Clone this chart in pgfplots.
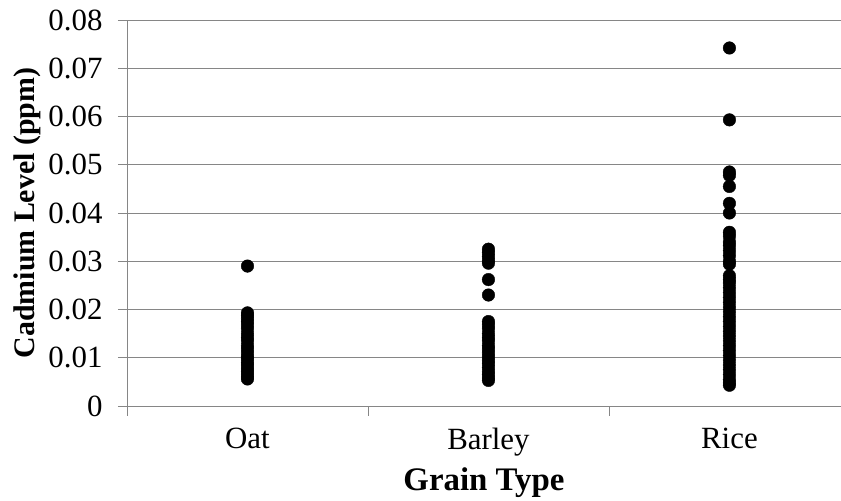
\documentclass[border=0pt]{standalone}
\usepackage{fontspec}
\setmainfont{Liberation Serif}
\usepackage{pgfplots}
\pgfplotsset{compat=1.18}
\usetikzlibrary{calc}
\definecolor{gridgray}{HTML}{868686}
\begin{document}
\begin{tikzpicture}
\begin{axis}[
  scale only axis,
  width=714bp, height=386bp,
  xmin=-0.5, xmax=2.463,
  ymin=0, ymax=0.08,
  ytick={0,0.01,...,0.08},
  yticklabel style={/pgf/number format/fixed,/pgf/number format/precision=2},
  /pgf/number format/assume math mode=true,
  scaled y ticks=false,
  xtick={0,1,2},
  xticklabels={Oat,Barley,Rice},
  minor xtick={-0.5,0.5,1.5},
  major x tick style={draw=none},
  tick align=outside,
  major tick length=9bp,
  minor tick length=10bp,
  tick style={gridgray, line width=0.8pt},
  axis x line*=bottom,
  axis y line*=left,
  axis line style={gridgray, line width=0.8pt, -},
  ymajorgrids,
  grid style={gridgray, line width=0.8pt},
  tick label style={font=\fontsize{31}{33}\selectfont, black},
  xticklabel style={yshift=-10bp},
  yticklabel style={xshift=-12bp},
  xlabel={\textbf{Grain Type}},
  ylabel={\textbf{Cadmium Level (ppm)}},
  xlabel style={font=\fontsize{33}{35}\selectfont, yshift=-4bp},
  ylabel style={font=\fontsize{30}{32}\selectfont, yshift=1bp},
  clip=false,
]
\addplot[only marks, mark=*, mark size=6.3bp, mark options={fill=black, draw=black}] coordinates {
(0,0.0290) (0,0.0193) (0,0.0188) (0,0.0182) (0,0.0175) (0,0.0168) (0,0.0160) (0,0.0150)
(0,0.0142) (0,0.0135) (0,0.0125) (0,0.0118) (0,0.0110) (0,0.0102) (0,0.0098) (0,0.0090)
(0,0.0085) (0,0.0078) (0,0.0072) (0,0.0066) (0,0.0060) (0,0.0056)
(1,0.0325) (1,0.0318) (1,0.0310) (1,0.0302) (1,0.0296) (1,0.0262) (1,0.0230) (1,0.0175)
(1,0.0168) (1,0.0160) (1,0.0150) (1,0.0142) (1,0.0135) (1,0.0125) (1,0.0118) (1,0.0110)
(1,0.0102) (1,0.0095) (1,0.0088) (1,0.0080) (1,0.0072) (1,0.0065) (1,0.0058) (1,0.0053)
(2,0.0742) (2,0.0593) (2,0.0485) (2,0.0478) (2,0.0455) (2,0.0420) (2,0.0400) (2,0.0360)
(2,0.0352) (2,0.0340) (2,0.0332) (2,0.0322) (2,0.0312) (2,0.0300) (2,0.0294) (2,0.0270)
(2,0.0262) (2,0.0255) (2,0.0245) (2,0.0235) (2,0.0225) (2,0.0215) (2,0.0205) (2,0.0195)
(2,0.0185) (2,0.0175) (2,0.0165) (2,0.0155) (2,0.0145) (2,0.0135) (2,0.0125) (2,0.0115)
(2,0.0105) (2,0.0095) (2,0.0085) (2,0.0075) (2,0.0065) (2,0.0055) (2,0.0048) (2,0.0043)
};
\end{axis}
\pgfresetboundingbox
\path[use as bounding box] ($(current axis.south west)+(-127bp,-95bp)$) rectangle ($(current axis.north east)+(0bp,20bp)$);
\end{tikzpicture}
\end{document}
